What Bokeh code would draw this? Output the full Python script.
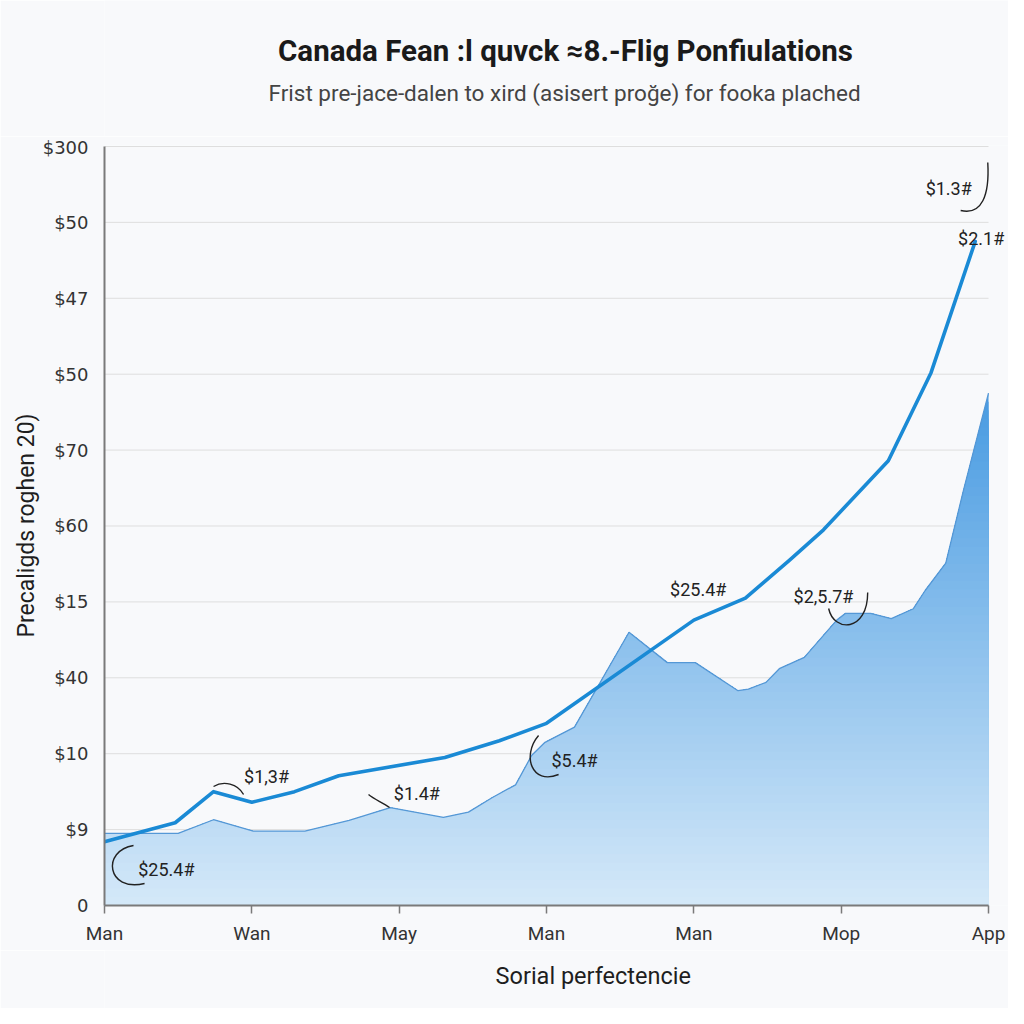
import numpy as np
from bokeh.plotting import figure
from bokeh.layouts import column
from bokeh.models import Range1d, FixedTicker
from bokeh.core.properties import value
from bokeh.embed import file_html
from bokeh.resources import INLINE

# ---- data -------------------------------------------------------------
months = ["Man", "Wan", "May", "Man", "Man", "Mop", "App"]
y_tick_labels = ["0", "$9", "$10", "$40", "$15", "$60", "$70", "$50", "$47", "$50", "$300"]

line_x = [0, 0.48, 0.74, 1.00, 1.29, 1.59, 2.31, 2.68, 3.00, 4.00, 4.35, 4.65, 4.88, 5.32, 5.61, 5.91]
line_y = [0.84, 1.09, 1.50, 1.36, 1.50, 1.71, 1.95, 2.17, 2.40, 3.76, 4.05, 4.55, 4.95, 5.86, 7.02, 8.75]

area_x = [0, 0.50, 0.74, 1.01, 1.36, 1.66, 1.94, 2.30, 2.47, 2.63, 2.79, 2.90, 2.99, 3.19, 3.56,
          3.82, 4.01, 4.30, 4.37, 4.49, 4.58, 4.75, 4.97, 5.03, 5.20, 5.34, 5.49, 5.57, 5.71, 5.83, 6.0]
area_y = [0.95, 0.95, 1.13, 0.98, 0.98, 1.12, 1.29, 1.16, 1.23, 1.42, 1.59, 1.98, 2.15, 2.35, 3.60,
          3.20, 3.20, 2.83, 2.85, 2.94, 3.12, 3.27, 3.76, 3.85, 3.85, 3.78, 3.91, 4.15, 4.51, 5.47, 6.75]

note_text = ["$1.3#", "$2.1#", "$1,3#", "$1.4#", "$25.4#", "$5.4#", "$25.4#", "$2,5.7#"]
note_x = [5.73, 5.95, 1.10, 2.12, 0.42, 3.19, 4.03, 4.88]
note_y = [9.45, 8.79, 1.70, 1.48, 0.47, 1.91, 4.16, 4.07]

# callout curves (bezier): start, control 1, control 2, end
curve_x0 = [5.995, 0.740, 1.792, 0.197, 2.946, 4.915]
curve_y0 = [9.790, 1.568, 1.462, 0.791, 2.240, 3.913]
curve_cx0 = [6.008, 0.808, 1.833, -0.020, 2.831, 4.949]
curve_cy0 = [9.355, 1.647, 1.397, 0.725, 1.976, 3.597]
curve_cx1 = [5.954, 0.903, 1.887, 0.014, 2.899, 5.180]
curve_cy1 = [9.091, 1.607, 1.357, 0.171, 1.581, 3.597]
curve_x1 = [5.811, 0.944, 1.935, 0.272, 3.082, 5.180]
curve_y1 = [9.157, 1.462, 1.291, 0.290, 1.726, 4.124]

title = "Canada Fean :l quvck \u22488.-Flig Ponfiulations"
subtitle = "Frist pre-jace-dalen to xird (asisert pro\u011fe) for fooka plached"
y_title = "Precaligds roghen 20)"
x_title = "Sorial perfectencie"

BG = "#f8f9fb"
W = 1008
HEAD_H, MAIN_H, FOOT_H = 136, 814, 58
x_last = len(months) - 1
y_last = len(y_tick_labels) - 1

# ---- header strip (title + subtitle) -------------------------------------
head = figure(width=W, height=HEAD_H, output_backend="svg", toolbar_location=None,
              x_range=Range1d(0, W), y_range=Range1d(0, HEAD_H),
              x_axis_type=None, y_axis_type=None, min_border=0,
              background_fill_color=BG, border_fill_color=BG, outline_line_color=None)
head.xgrid.visible = False
head.ygrid.visible = False
head.text(x=[514], y=[86], text=[title], text_font=value("Roboto"),
          text_font_size="29.5px", text_font_style="bold", text_color="#1a1a1a",
          text_align="center", text_baseline="middle")
head.text(x=[513], y=[44], text=[subtitle], text_font=value("Roboto"),
          text_font_size="22.5px", text_color="#444444",
          text_align="center", text_baseline="middle")

# ---- main chart ------------------------------------------------------------
# frame runs a little past the last x tick so the right-edge label is not clipped
p = figure(width=W, height=MAIN_H, output_backend="svg", toolbar_location=None,
           x_range=Range1d(0, x_last + 0.1357), y_range=Range1d(0, y_last + 0.013),
           min_border_left=104, min_border_right=0, min_border_top=9, min_border_bottom=45,
           background_fill_color=BG, border_fill_color=BG, outline_line_color=None)

grid_vals = list(range(len(y_tick_labels)))
p.segment(x0=[0] * len(grid_vals), x1=[x_last] * len(grid_vals), y0=grid_vals, y1=grid_vals,
          line_color="#dedede", line_width=1)

xs = np.linspace(0, x_last, 1201)
fy = np.interp(xs, area_x, area_y)
top = max(area_y)
c_bot = np.array([213, 233, 249])
c_top = np.array([72, 155, 226])
N = 60
for k in reversed(range(N)):
    b = top * (k + 1) / N
    t = (k + 0.5) / N
    c = (c_bot + (c_top - c_bot) * t).astype(int)
    col = "#%02x%02x%02x" % tuple(c)
    p.varea(x=xs, y1=np.zeros_like(xs), y2=np.minimum(fy, b), fill_color=col, fill_alpha=1.0)

p.line(area_x, area_y, line_color="#5598d6", line_width=1.3)
p.line(line_x, line_y, line_color="#1a8ad5", line_width=3.6, line_join="round", line_cap="round")

p.bezier(x0=curve_x0, y0=curve_y0, x1=curve_x1, y1=curve_y1,
         cx0=curve_cx0, cy0=curve_cy0, cx1=curve_cx1, cy1=curve_cy1,
         line_color="#222222", line_width=1.4)

p.text(x=note_x, y=note_y, text=note_text, text_font=value("Roboto"), text_font_size="18px",
       text_color="#222222", text_align="center", text_baseline="middle")

p.xaxis.ticker = FixedTicker(ticks=list(range(len(months))))
p.xaxis.major_label_overrides = {i: m for i, m in enumerate(months)}
p.xaxis.bounds = (0, x_last)
p.yaxis.ticker = FixedTicker(ticks=list(range(len(y_tick_labels))))
p.yaxis.major_label_overrides = {i: s for i, s in enumerate(y_tick_labels)}
p.yaxis.bounds = (0, y_last)

for ax in (p.xaxis[0], p.yaxis[0]):
    ax.axis_line_color = "#7a7a7a"
    ax.axis_line_width = 2
    ax.major_tick_line_color = "#7a7a7a"
    ax.major_tick_line_width = 1.5
    ax.minor_tick_line_color = None
    ax.major_label_text_color = "#333333"
    ax.axis_label_text_font = "Roboto"
    ax.axis_label_text_font_style = "normal"
    ax.axis_label_text_color = "#1e1e1e"

p.xaxis.major_tick_out = 8
p.xaxis.major_tick_in = 0
p.xaxis.major_label_standoff = 8
p.xaxis.major_label_text_font = "Roboto"
p.xaxis.major_label_text_font_size = "19px"

p.yaxis.major_tick_out = 0
p.yaxis.major_tick_in = 0
p.yaxis.major_label_standoff = 16
p.yaxis.major_label_text_font = "DejaVu Sans"
p.yaxis.major_label_text_font_size = "18px"
p.yaxis.axis_label = y_title
p.yaxis.axis_label_text_font_size = "23px"
p.yaxis.axis_label_standoff = 0

p.xgrid.visible = False
p.ygrid.visible = False

# ---- footer strip (x-axis title) --------------------------------------------
foot = figure(width=W, height=FOOT_H, output_backend="svg", toolbar_location=None,
              x_range=Range1d(0, W), y_range=Range1d(0, FOOT_H),
              x_axis_type=None, y_axis_type=None, min_border=0,
              background_fill_color=BG, border_fill_color=BG, outline_line_color=None)
foot.xgrid.visible = False
foot.ygrid.visible = False
foot.text(x=[545], y=[33], text=[x_title], text_font=value("Roboto"),
          text_font_size="23.5px", text_color="#1e1e1e",
          text_align="center", text_baseline="middle")

layout = column(head, p, foot, spacing=0)
open("out.html", "w").write(file_html(layout, INLINE))
